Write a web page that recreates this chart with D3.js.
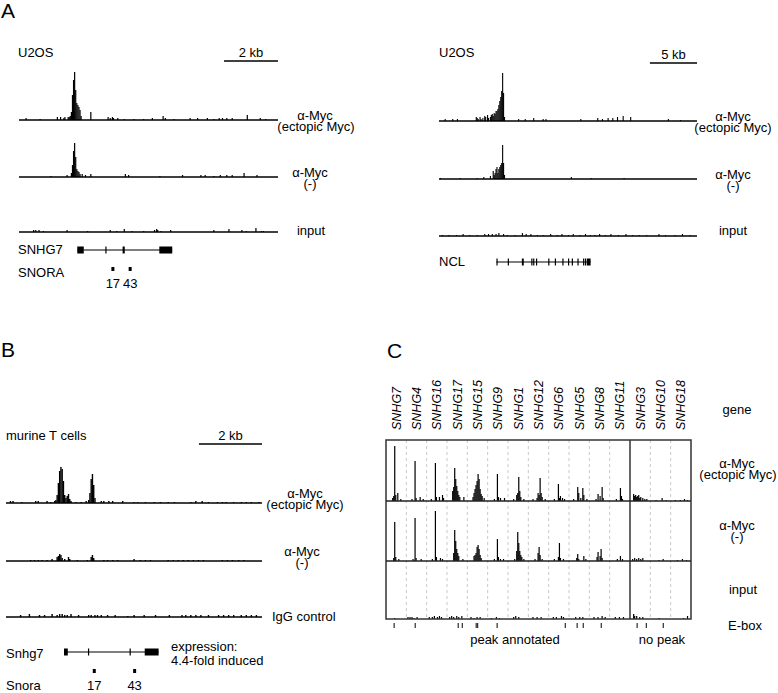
<!DOCTYPE html>
<html>
<head>
<meta charset="utf-8">
<script src="https://cdn.jsdelivr.net/npm/d3@7"></script>
<style>
  body { margin: 0; background: #fff; }
  svg text { font-family: "Liberation Sans", Arial, sans-serif; fill: #000; }
</style>
</head>
<body>
<svg id="fig" width="778" height="693"></svg>
<script>
// ---- data ----
// Panel A left: SNHG7 locus, 40 bp bins, [bin, signal]
const aLeftBinKb = 0.04;
const aLeftBins = 240;
const aLeftEctopic = [[6,2],[19,1],[35,3],[38,3],[41,2],[42,3],[45,3],[46,3],[47,4],[48,8],[49,25],[50,40],[51,48],[52,30],[53,17],[54,15],[55,13],[56,10],[57,4],[66,8],[82,3],[84,2],[86,3],[87,2],[91,2],[97,1],[106,1],[115,1],[123,2],[133,4],[135,2],[143,1],[158,2],[165,2],[174,2],[180,1],[185,2],[188,2],[192,2],[197,2],[211,5],[223,2],[228,1]];
const aLeftMinus = [[29,1],[44,2],[48,4],[49,12],[50,26],[51,34],[52,20],[53,8],[54,6],[55,5],[56,3],[58,3],[61,2],[66,3],[98,3],[101,2],[130,1],[151,2],[168,2],[172,2],[180,1],[186,2],[192,2],[197,2],[208,4],[220,2]];
const aLeftInput = [[13,2],[15,2],[18,2],[22,1],[44,2],[63,1],[84,2],[90,1],[97,3],[104,1],[115,1],[125,2],[127,3],[128,2],[131,1],[140,2],[180,2],[194,3],[206,2],[210,1],[219,4],[224,1],[226,1]];
const snhg7Exons = [[54,60],[80,80.8],[96,98],[130,142]];
const snoraA = [[87,"17"],[103,"43"]];

// Panel A right: NCL locus, 100 bp bins
const aRightBinKb = 0.1;
const aRightBins = 274;
const aRightEctopic = [[6,2],[14,2],[19,2],[39,4],[40,3],[41,2],[43,4],[44,2],[46,3],[48,5],[49,4],[51,6],[52,3],[54,4],[55,6],[56,7],[57,5],[58,8],[59,7],[60,10],[61,10],[62,12],[63,16],[64,20],[65,24],[66,30],[67,48],[68,28],[69,4],[84,2],[91,2],[100,3],[110,2],[113,2],[150,2],[168,3],[173,2],[179,3],[184,3],[189,4],[195,5],[203,4],[243,2],[256,1]];
const aRightMinus = [[1,1],[22,1],[40,1],[47,2],[54,3],[57,8],[58,4],[59,6],[60,10],[61,12],[62,6],[63,10],[64,12],[65,14],[66,16],[67,34],[68,16],[69,4],[140,2],[161,1],[196,1]];
const aRightInput = [[3,1],[10,1],[18,1],[25,2],[32,1],[40,1],[48,2],[52,2],[56,2],[60,2],[63,3],[68,2],[72,1],[80,1],[88,3],[92,2],[97,2],[104,1],[110,1],[118,2],[125,1],[130,2],[137,1],[142,2],[149,1],[155,2],[160,1],[165,1],[170,2],[176,1],[182,2],[190,1],[198,2],[205,1],[212,1],[220,1],[233,2],[240,1],[250,1],[258,2],[266,1]];
const nclExons = [[61,62],[73,74],[88,90],[98,99],[100,101],[103,104],[116,117],[123,124],[131,132],[137,138],[141,142],[147,148],[153,154],[155,156],[157,161]];

// Panel B: murine Snhg7 locus, 40 bp bins
const bBinKb = 0.04;
const bBins = 203;
const bEctopic = [[3,2],[5,2],[12,1],[23,2],[25,2],[32,2],[35,1],[38,2],[39,3],[40,8],[41,20],[42,32],[43,36],[44,34],[45,22],[46,8],[47,5],[48,7],[49,9],[50,4],[51,2],[55,1],[59,1],[63,2],[65,3],[66,10],[67,24],[68,29],[69,18],[70,5],[75,2],[77,2],[81,2],[84,2],[92,2],[101,1],[104,1],[110,1],[117,1],[122,1],[128,1],[133,1],[146,1],[150,2],[155,2],[160,1],[167,1],[171,1],[174,1],[180,1],[186,1],[190,1],[194,1],[200,1]];
const bMinus = [[19,1],[22,1],[25,1],[28,1],[32,1],[36,2],[40,4],[41,5],[42,7],[43,6],[44,3],[46,2],[49,4],[50,2],[56,1],[64,1],[67,4],[68,6],[69,3],[77,1],[80,1],[84,1],[88,1],[101,2],[106,1],[110,1],[114,1],[128,1],[132,1],[136,1],[140,1],[144,1],[148,1],[152,1],[156,1],[171,1],[175,1],[179,1],[184,1],[188,1]];
const bIgG = [[11,2],[18,3],[26,2],[30,2],[36,3],[40,2],[42,3],[44,3],[46,2],[48,2],[51,3],[57,2],[65,2],[67,2],[70,2],[72,2],[75,2],[80,2],[86,2],[96,1],[101,2],[109,2],[118,2],[129,2],[139,2],[142,2],[146,2],[150,2],[154,2],[160,2],[168,2],[172,2],[176,2],[180,2],[186,2],[190,2],[194,2],[198,2]];
const snhg7mExons = [[46,49],[65,65.8],[98,98.8],[110,121]];
const snoraB = [[70,"17"],[102,"43"]];

// Panel C: SNHG genes, [gene index, position in window 0-20, signal]
const cGenes = ["SNHG7","SNHG4","SNHG16","SNHG17","SNHG15","SNHG9","SNHG1","SNHG12","SNHG6","SNHG5","SNHG8","SNHG11","SNHG3","SNHG10","SNHG18"];
const cPeakCount = 12; // first 12 genes: peak annotated
const cEctopic = [[0,6,3],[0,7,5],[0,8,55],[0,9,6],[0,11,8],[0,14,2],
  [1,5,2],[1,8,40],[1,9,3],[1,13,4],[1,16,2],
  [2,4,2],[2,8,38],[2,9,4],[2,12,4],[2,15,6],[2,16,3],
  [3,5,10],[3,6,14],[3,7,33],[3,8,22],[3,9,15],[3,10,10],[3,11,6],[3,12,4],[3,16,4],
  [4,5,4],[4,6,8],[4,7,12],[4,8,16],[4,9,20],[4,10,27],[4,11,22],[4,12,12],[4,13,7],[4,14,5],[4,16,3],
  [5,6,2],[5,9,27],[5,10,4],[5,12,3],[5,16,3],
  [6,5,2],[6,8,6],[6,9,8],[6,10,24],[6,11,10],[6,12,4],[6,15,2],
  [7,4,2],[7,8,3],[7,9,8],[7,10,6],[7,11,23],[7,12,8],[7,13,4],[7,16,2],
  [8,5,2],[8,9,17],[8,10,3],[8,11,5],[8,13,3],[8,15,2],
  [9,4,2],[9,8,14],[9,9,8],[9,11,3],[9,13,13],[9,14,6],[9,17,2],
  [10,6,2],[10,8,7],[10,10,5],[10,12,14],[10,13,3],
  [11,6,2],[11,10,13],[11,11,5],[11,12,2],
  [12,3,7],[12,4,5],[12,5,6],[12,6,4],[12,7,5],[12,8,6],[12,9,3],[12,10,4],[12,12,3],[12,14,2],[12,16,2],
  [13,5,1],[13,11,3],[13,15,1],
  [14,4,1],[14,9,1],[14,13,2],[14,16,1]];
const cMinus = [[0,7,3],[0,8,39],[0,9,4],[0,12,2],
  [1,6,2],[1,8,43],[1,9,3],[1,14,2],
  [2,5,2],[2,8,50],[2,9,4],[2,13,3],[2,15,2],
  [3,6,8],[3,7,31],[3,8,20],[3,9,12],[3,10,8],[3,11,5],[3,15,2],
  [4,6,5],[4,7,6],[4,8,8],[4,9,14],[4,10,16],[4,11,12],[4,12,6],[4,13,3],
  [5,6,2],[5,9,22],[5,10,4],[5,12,2],[5,15,2],
  [6,6,2],[6,8,10],[6,9,29],[6,10,18],[6,11,10],[6,12,6],[6,13,4],[6,15,2],
  [7,6,2],[7,9,8],[7,10,14],[7,11,6],[7,13,2],
  [8,5,2],[8,9,4],[8,10,18],[8,11,3],[8,14,2],
  [9,7,3],[9,8,7],[9,9,2],[9,14,5],[9,16,2],
  [10,7,4],[10,8,9],[10,10,5],[10,11,12],[10,12,3],
  [11,7,2],[11,10,5],[11,12,2],
  [12,2,2],[12,4,3],[12,6,2],[12,8,3],[12,10,2],[12,12,3],
  [13,8,1],[13,12,2],
  [14,6,1],[14,11,2],[14,15,1]];
const cInput = [[0,8,1],
  [1,1,2],[1,3,2],[1,5,2],[1,7,1],[1,10,2],
  [2,2,2],[2,5,2],[2,7,3],[2,10,2],[2,12,3],[2,14,2],
  [3,2,2],[3,4,3],[3,6,2],[3,9,3],[3,11,2],[3,14,3],
  [4,3,2],[4,6,1],[4,9,2],[4,12,2],
  [5,3,1],[5,8,2],[5,11,1],
  [6,5,2],[6,7,3],[6,10,2],
  [7,4,2],[7,8,2],[7,12,2],
  [8,4,2],[8,7,2],[8,12,3],[8,14,2],
  [9,6,2],[9,10,2],[9,13,2],
  [10,4,2],[10,8,2],[10,12,3],[10,15,2],
  [11,5,2],[11,9,2],[11,13,2],
  [12,3,5],[12,4,3],[12,6,3],[12,9,2],[12,12,2],
  [13,8,1],
  [14,12,1],[14,16,3]];
const cEbox = [[0,8],[1,8.7],[3,11],[3,15],[4,8.7],[4,10.2],[5,9.3],[8,16.3],[9,8],[9,14],[10,11.7],[12,7],[12,16],[13,12.7]];

// ---- drawing ----
let svg = d3.select("svg#fig");
let fontSize = "13px";

// bars for one coverage track, signal in px-like units
function drawTrack(data, x, baseY, barW) {
  let y = d3.scaleLinear().domain([0, 50]).range([baseY, baseY - 50]);
  svg.append("g").selectAll("rect")
    .data(data)
    .enter().append("rect")
    .attr("x", d => x(d[0]))
    .attr("y", d => y(d[1]))
    .attr("width", barW)
    .attr("height", d => baseY - y(d[1]))
    .attr("fill", "#000");
  svg.append("line")
    .attr("x1", x.range()[0]).attr("x2", x.range()[1])
    .attr("y1", baseY).attr("y2", baseY)
    .attr("stroke", "#000")
    .attr("stroke-width", 1.5);
}

function drawGene(exons, x, cy) {
  svg.append("line")
    .attr("x1", x(exons[0][0])).attr("x2", x(exons[exons.length - 1][1]))
    .attr("y1", cy).attr("y2", cy)
    .attr("stroke", "#000").attr("stroke-width", 1.2);
  svg.append("g").selectAll("rect")
    .data(exons)
    .enter().append("rect")
    .attr("x", d => x(d[0]))
    .attr("y", cy - 3.5)
    .attr("width", d => Math.max(1.2, x(d[1]) - x(d[0])))
    .attr("height", 7)
    .attr("fill", "#000");
}

function addText(x, y, txt, anchor, size) {
  return svg.append("text")
    .attr("x", x).attr("y", y)
    .attr("text-anchor", anchor || "start")
    .attr("font-size", size || fontSize)
    .text(txt);
}

function scaleBar(x, nBins, label, barY) {
  let x1 = x(x.domain()[1] - nBins);
  let x2 = x(x.domain()[1]);
  svg.append("line")
    .attr("x1", x1).attr("x2", x2)
    .attr("y1", barY).attr("y2", barY)
    .attr("stroke", "#000").attr("stroke-width", 1.5);
  addText((x1 + x2) / 2, barY - 4, label, "middle");
}

// panel letters
addText(1, 18, "A", "start", "21px");
addText(1, 357, "B", "start", "21px");
addText(387, 358, "C", "start", "21px");

// ---- Panel A left ----
let xAL = d3.scaleLinear().domain([0, aLeftBins]).range([19, 278]);
addText(18, 57, "U2OS");
scaleBar(xAL, 2 / aLeftBinKb, "2 kb", 61);
drawTrack(aLeftEctopic, xAL, 120, 1.2);
drawTrack(aLeftMinus, xAL, 177, 1.2);
drawTrack(aLeftInput, xAL, 232, 1.2);
addText(315, 120, "α-Myc", "middle");
addText(316, 131, "(ectopic Myc)", "middle");
addText(310, 177, "α-Myc", "middle");
addText(310, 188, "(-)", "middle");
addText(311, 235, "input", "middle");
addText(18, 254, "SNHG7");
drawGene(snhg7Exons, xAL, 250);
addText(18, 277, "SNORA");
snoraA.forEach(d => {
  svg.append("rect")
    .attr("x", xAL(d[0]) - 1.5).attr("y", 267)
    .attr("width", 3).attr("height", 4)
    .attr("fill", "#000");
  addText(xAL(d[0]), 288, d[1], "middle");
});

// ---- Panel A right ----
let xAR = d3.scaleLinear().domain([0, aRightBins]).range([439, 697]);
addText(439, 57, "U2OS");
scaleBar(xAR, 5 / aRightBinKb, "5 kb", 63);
drawTrack(aRightEctopic, xAR, 121, 1.1);
drawTrack(aRightMinus, xAR, 179, 1.1);
drawTrack(aRightInput, xAR, 236, 1.1);
addText(733, 121, "α-Myc", "middle");
addText(733, 132, "(ectopic Myc)", "middle");
addText(733, 179, "α-Myc", "middle");
addText(733, 190, "(-)", "middle");
addText(733, 235, "input", "middle");
addText(439, 266, "NCL");
drawGene(nclExons, xAR, 262);

// ---- Panel B ----
let xB = d3.scaleLinear().domain([0, bBins]).range([6, 262]);
addText(6, 440, "murine T cells");
scaleBar(xB, 2 / bBinKb, "2 kb", 444);
drawTrack(bEctopic, xB, 503, 1.4);
drawTrack(bMinus, xB, 561, 1.4);
drawTrack(bIgG, xB, 617, 1.4);
addText(305, 498, "α-Myc", "middle");
addText(305, 509, "(ectopic Myc)", "middle");
addText(302, 556, "α-Myc", "middle");
addText(302, 567, "(-)", "middle");
addText(272, 621, "IgG control");
addText(6, 658, "Snhg7");
drawGene(snhg7mExons, xB, 652);
addText(171, 651, "expression:");
addText(171, 665, "4.4-fold induced");
addText(6, 690, "Snora");
snoraB.forEach(d => {
  svg.append("rect")
    .attr("x", xB(d[0]) - 1.5).attr("y", 669)
    .attr("width", 3).attr("height", 4)
    .attr("fill", "#000");
  addText(xB(d[0]), 690, d[1], "middle");
});

// ---- Panel C ----
let band = d3.scaleBand().domain(cGenes).range([386, 691]).padding(0);
let bw = band.bandwidth();
let cOff = d3.scaleLinear().domain([0, 20]).range([0, bw]);
let cTop = 440, cRow1 = 501, cRow2 = 561, cBot = 619;

// dashed separators between genes
svg.append("g").selectAll("line")
  .data(cGenes.slice(1))
  .enter().append("line")
  .attr("x1", d => band(d)).attr("x2", d => band(d))
  .attr("y1", cTop).attr("y2", cBot)
  .attr("stroke", (d, i) => i + 1 === cPeakCount ? "#333" : "#c8c8c8")
  .attr("stroke-width", (d, i) => i + 1 === cPeakCount ? 1.5 : 1)
  .attr("stroke-dasharray", (d, i) => i + 1 === cPeakCount ? null : "3,3");

function drawCTrack(data, baseY) {
  let y = d3.scaleLinear().domain([0, 50]).range([baseY, baseY - 50]);
  svg.append("g").selectAll("rect")
    .data(data)
    .enter().append("rect")
    .attr("x", d => band(cGenes[d[0]]) + cOff(d[1]))
    .attr("y", d => y(d[2]))
    .attr("width", 1.2)
    .attr("height", d => baseY - y(d[2]))
    .attr("fill", "#000");
}
drawCTrack(cEctopic, cRow1);
drawCTrack(cMinus, cRow2);
drawCTrack(cInput, cBot);

// box and row lines
svg.append("rect")
  .attr("x", 386).attr("y", cTop)
  .attr("width", 691 - 386).attr("height", cBot - cTop)
  .attr("fill", "none").attr("stroke", "#333").attr("stroke-width", 1.5);
[cRow1, cRow2].forEach(yy => {
  svg.append("line")
    .attr("x1", 386).attr("x2", 691)
    .attr("y1", yy).attr("y2", yy)
    .attr("stroke", "#222").attr("stroke-width", 1.5);
});

// gene names
svg.append("g").selectAll("text")
  .data(cGenes)
  .enter().append("text")
  .attr("transform", d => "translate(" + (band(d) + bw / 2 + 4.5) + ",430) rotate(-90)")
  .attr("font-size", "12.5px")
  .attr("font-style", "italic")
  .text(d => d);

// E-box ticks
svg.append("g").selectAll("line")
  .data(cEbox)
  .enter().append("line")
  .attr("x1", d => band(cGenes[d[0]]) + cOff(d[1]))
  .attr("x2", d => band(cGenes[d[0]]) + cOff(d[1]))
  .attr("y1", 623).attr("y2", 628)
  .attr("stroke", "#000").attr("stroke-width", 1);

addText(737, 468, "α-Myc", "middle");
addText(737, 414, "gene", "middle");
addText(738, 479, "(ectopic Myc)", "middle");
addText(737, 530, "α-Myc", "middle");
addText(737, 541, "(-)", "middle");
addText(743, 594, "input", "middle");
addText(745, 630, "E-box", "middle");
addText(515, 644, "peak annotated", "middle");
addText(662, 644, "no peak", "middle");
</script>
</body>
</html>
